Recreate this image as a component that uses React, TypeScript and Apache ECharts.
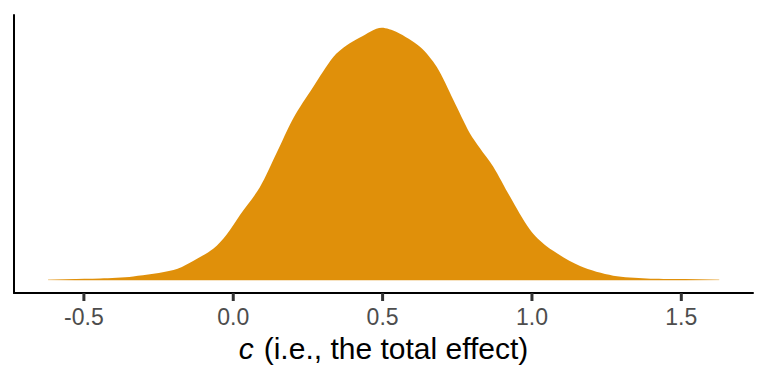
import React, { useEffect, useRef } from "react";
import * as echarts from "echarts";

const xValues = [-0.62, -0.55, -0.446, -0.335, -0.2, -0.145, -0.067, -0.022, 0.022, 0.089, 0.145, 0.201, 0.268, 0.335, 0.38, 0.424, 0.497, 0.547, 0.625, 0.681, 0.737, 0.792, 0.826, 0.87, 0.926, 0.993, 1.049, 1.161, 1.272, 1.384, 1.496, 1.627];
const densityValues = [0.007, 0.008, 0.011, 0.022, 0.057, 0.098, 0.175, 0.254, 0.36, 0.515, 0.704, 0.897, 1.071, 1.236, 1.3, 1.343, 1.398, 1.374, 1.292, 1.181, 0.998, 0.814, 0.731, 0.63, 0.465, 0.281, 0.189, 0.079, 0.026, 0.011, 0.008, 0.007];
const tickValues = [-0.5, 0, 0.5, 1.0, 1.5];

export default function App() {
  const ref = useRef<HTMLDivElement>(null);
  useEffect(() => {
    if (!ref.current) return;
    const chart = echarts.init(ref.current, null, { renderer: "svg" });
    const peak = Math.max(...densityValues);
    const yMin = -0.05 * peak;
    const data = xValues.map((x, i) => [x, densityValues[i]]);
    const fill = "#E0900A";
    const font = "Liberation Sans, Arial, sans-serif";
    chart.setOption({
      animation: false,
      backgroundColor: "#ffffff",
      grid: { left: 14, right: 15, top: 15, bottom: 91, containLabel: false },
      xAxis: {
        type: "value",
        min: -0.734,
        max: 1.74,
        name: "{i|c}{n|(i.e., the total effect)}",
        nameLocation: "middle",
        nameGap: 40,
        nameTextStyle: {
          rich: {
            i: { fontStyle: "italic", fontSize: 30, color: "#000", fontFamily: font, padding: [0, 10, 0, 0] },
            n: { fontSize: 30, color: "#000", fontFamily: font },
          },
        },
        axisLine: { show: true, onZero: false, lineStyle: { color: "#000", width: 2 } },
        axisTick: { show: false },
        axisLabel: {
          customValues: tickValues,
          formatter: (v: number) => v.toFixed(1),
          color: "#4D4D4D",
          fontSize: 23,
          margin: 12,
          fontFamily: font,
        },
        splitLine: { show: false },
      },
      yAxis: {
        type: "value",
        min: yMin,
        max: 1.05 * peak,
        axisLine: { show: true, onZero: false, lineStyle: { color: "#000", width: 2 } },
        axisTick: { show: false },
        axisLabel: { show: false },
        splitLine: { show: false },
      },
      series: [
        {
          type: "line",
          data,
          smooth: 0.3,
          showSymbol: false,
          symbol: "none",
          lineStyle: { width: 0 },
          areaStyle: {
            origin: 0,
            opacity: 1,
            color: new echarts.graphic.LinearGradient(0, 0, 1, 0, [
              { offset: 0, color: "rgba(224,144,10,0.35)" },
              { offset: 0.04, color: fill },
              { offset: 0.95, color: fill },
              { offset: 1, color: "rgba(224,144,10,0.35)" },
            ]),
          },
        },
        {
          type: "scatter",
          data: tickValues.map((v) => [v, yMin]),
          symbol: "rect",
          symbolSize: [3, 8],
          symbolOffset: [0, 4],
          clip: false,
          silent: true,
          z: 5,
          itemStyle: { color: "#333333", opacity: 1 },
        },
      ],
    });
    return () => chart.dispose();
  }, []);
  return <div ref={ref} style={{ width: 768, height: 384, margin: -8 }} />;
}
